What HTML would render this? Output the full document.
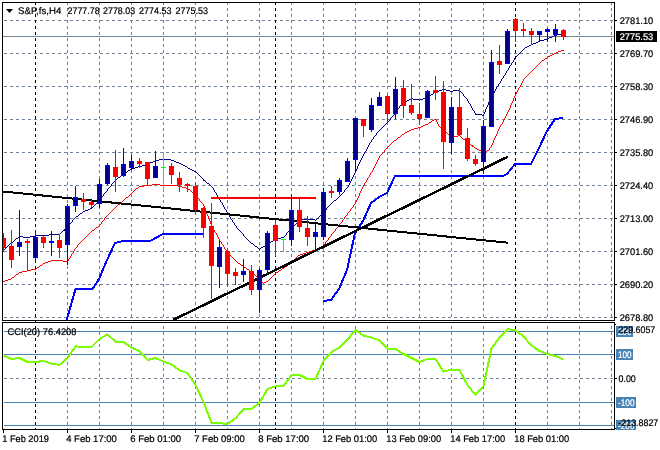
<!DOCTYPE html>
<html><head><meta charset="utf-8"><title>S&amp;P,fs,H4</title>
<style>
html,body{margin:0;padding:0;background:#fff;}
svg{display:block;}
text{text-rendering:geometricPrecision;font-family:"Liberation Sans",sans-serif;font-size:9.6px;fill:#000;stroke:#000;stroke-width:0.22px;}
</style></head><body>
<svg width="660" height="450" viewBox="0 0 660 450">
<rect x="0" y="0" width="660" height="450" fill="#fff"/>
<defs>
<clipPath id="cm"><rect x="3" y="3" width="611" height="317"/></clipPath>
<clipPath id="cs"><rect x="3" y="323" width="611" height="106"/></clipPath>
</defs>

<g shape-rendering="crispEdges" fill="none" stroke="#6f8194" stroke-width="1" stroke-dasharray="3 3">
<line x1="4" y1="20.5" x2="614" y2="20.5"/>
<line x1="4" y1="53.5" x2="614" y2="53.5"/>
<line x1="4" y1="86.5" x2="614" y2="86.5"/>
<line x1="4" y1="119.5" x2="614" y2="119.5"/>
<line x1="4" y1="152.5" x2="614" y2="152.5"/>
<line x1="4" y1="185.5" x2="614" y2="185.5"/>
<line x1="4" y1="218.5" x2="614" y2="218.5"/>
<line x1="4" y1="251.5" x2="614" y2="251.5"/>
<line x1="4" y1="284.5" x2="614" y2="284.5"/>
<line x1="4" y1="317.5" x2="614" y2="317.5"/>
<line x1="4" y1="378.5" x2="614" y2="378.5"/>
<line x1="35.5" y1="2" x2="35.5" y2="320"/>
<line x1="35.5" y1="326" x2="35.5" y2="429"/>
<line x1="67.5" y1="2" x2="67.5" y2="320"/>
<line x1="67.5" y1="326" x2="67.5" y2="429"/>
<line x1="99.5" y1="2" x2="99.5" y2="320"/>
<line x1="99.5" y1="326" x2="99.5" y2="429"/>
<line x1="131.5" y1="2" x2="131.5" y2="320"/>
<line x1="131.5" y1="326" x2="131.5" y2="429"/>
<line x1="163.5" y1="2" x2="163.5" y2="320"/>
<line x1="163.5" y1="326" x2="163.5" y2="429"/>
<line x1="195.5" y1="2" x2="195.5" y2="320"/>
<line x1="195.5" y1="326" x2="195.5" y2="429"/>
<line x1="227.5" y1="2" x2="227.5" y2="320"/>
<line x1="227.5" y1="326" x2="227.5" y2="429"/>
<line x1="259.5" y1="2" x2="259.5" y2="320"/>
<line x1="259.5" y1="326" x2="259.5" y2="429"/>
<line x1="291.5" y1="2" x2="291.5" y2="320"/>
<line x1="291.5" y1="326" x2="291.5" y2="429"/>
<line x1="323.5" y1="2" x2="323.5" y2="320"/>
<line x1="323.5" y1="326" x2="323.5" y2="429"/>
<line x1="355.5" y1="2" x2="355.5" y2="320"/>
<line x1="355.5" y1="326" x2="355.5" y2="429"/>
<line x1="387.5" y1="2" x2="387.5" y2="320"/>
<line x1="387.5" y1="326" x2="387.5" y2="429"/>
<line x1="419.5" y1="2" x2="419.5" y2="320"/>
<line x1="419.5" y1="326" x2="419.5" y2="429"/>
<line x1="451.5" y1="2" x2="451.5" y2="320"/>
<line x1="451.5" y1="326" x2="451.5" y2="429"/>
<line x1="483.5" y1="2" x2="483.5" y2="320"/>
<line x1="483.5" y1="326" x2="483.5" y2="429"/>
<line x1="515.5" y1="2" x2="515.5" y2="320"/>
<line x1="515.5" y1="326" x2="515.5" y2="429"/>
<line x1="547.5" y1="2" x2="547.5" y2="320"/>
<line x1="547.5" y1="326" x2="547.5" y2="429"/>
<line x1="579.5" y1="2" x2="579.5" y2="320"/>
<line x1="579.5" y1="326" x2="579.5" y2="429"/>
<line x1="611.5" y1="2" x2="611.5" y2="320"/>
<line x1="611.5" y1="326" x2="611.5" y2="429"/>
</g>
<g shape-rendering="crispEdges" fill="none" stroke="#000" stroke-width="1" stroke-dasharray="3 3">
<line x1="35.5" y1="2" x2="35.5" y2="320"/>
<line x1="35.5" y1="326" x2="35.5" y2="429"/>
<line x1="275.5" y1="2" x2="275.5" y2="320"/>
<line x1="275.5" y1="326" x2="275.5" y2="429"/>
<line x1="515.5" y1="2" x2="515.5" y2="320"/>
<line x1="515.5" y1="326" x2="515.5" y2="429"/>
</g>
<g shape-rendering="crispEdges" stroke="#4682b4" stroke-width="1">
<line x1="4" y1="331.5" x2="614" y2="331.5"/>
<line x1="4" y1="354.5" x2="614" y2="354.5"/>
<line x1="4" y1="402.5" x2="614" y2="402.5"/>
<line x1="4" y1="425.5" x2="614" y2="425.5"/>
</g>
<line x1="3" y1="36.5" x2="614" y2="36.5" stroke="#778899" stroke-width="1" shape-rendering="crispEdges"/>
<g clip-path="url(#cm)" shape-rendering="crispEdges" fill="none">
<polyline points="66.7,320 75.5,289 92.5,289 99,279 107,260 115,243 123.5,241 150,241 163,234 203,234" stroke="#0000ff" stroke-width="2"/>
<polyline points="323,301 331,300 339,289 347,270 355,233 363,221 371,203 379,197 387,193 395,176 503,176 507,174 515,164 531,164 539,148 547,131 555,119 563,118" stroke="#0000ff" stroke-width="2"/>
<path d="M3 281v1h1v-1zM4 281v1h1v-1zM5 280v1h1v-1zM6 280v1h1v-1zM7 280v1h1v-1zM8 279v1h1v-1zM9 279v1h1v-1zM10 279v1h1v-1zM11 278v1h1v-1zM12 277v1h1v-1zM13 277v1h1v-1zM14 276v1h1v-1zM15 275v1h1v-1zM16 274v1h1v-1zM17 274v1h1v-1zM18 273v1h1v-1zM19 272v1h1v-1zM20 272v1h1v-1zM21 272v1h1v-1zM22 271v1h1v-1zM23 271v1h1v-1zM24 271v1h1v-1zM25 271v1h1v-1zM26 271v1h1v-1zM27 270v1h1v-1zM28 270v1h1v-1zM29 270v1h1v-1zM30 270v1h1v-1zM31 269v1h1v-1zM32 269v1h1v-1zM33 269v1h1v-1zM34 269v1h1v-1zM35 269v1h1v-1zM36 268v1h1v-1zM37 267v1h1v-1zM38 267v1h1v-1zM39 266v1h1v-1zM40 265v1h1v-1zM41 265v1h1v-1zM42 264v1h1v-1zM43 263v1h1v-1zM44 263v1h1v-1zM45 262v1h1v-1zM46 262v1h1v-1zM47 262v1h1v-1zM48 261v1h1v-1zM49 261v1h1v-1zM50 261v1h1v-1zM51 260v1h1v-1zM52 260v1h1v-1zM53 260v1h1v-1zM54 260v1h1v-1zM55 260v1h1v-1zM56 260v1h1v-1zM57 260v1h1v-1zM58 260v1h1v-1zM59 260v1h1v-1zM60 260v1h1v-1zM61 260v1h1v-1zM62 260v1h1v-1zM63 261v1h1v-1zM64 261v1h1v-1zM65 261v1h1v-1zM66 261v1h1v-1zM67 261v2h1v-2zM68 259v2h1v-2zM69 258v1h1v-1zM70 256v2h1v-2zM71 254v2h1v-2zM72 253v1h1v-1zM73 251v2h1v-2zM74 249v2h1v-2zM75 248v1h1v-1zM76 247v1h1v-1zM77 245v2h1v-2zM78 244v1h1v-1zM79 243v1h1v-1zM80 242v1h1v-1zM81 241v1h1v-1zM82 240v1h1v-1zM83 239v1h1v-1zM84 238v1h1v-1zM85 237v1h1v-1zM86 236v1h1v-1zM87 235v1h1v-1zM88 234v1h1v-1zM89 233v1h1v-1zM90 232v1h1v-1zM91 231v1h1v-1zM92 230v1h1v-1zM93 230v1h1v-1zM94 229v1h1v-1zM95 228v1h1v-1zM96 227v1h1v-1zM97 227v1h1v-1zM98 226v1h1v-1zM99 225v1h1v-1zM100 224v1h1v-1zM101 222v2h1v-2zM102 221v1h1v-1zM103 220v1h1v-1zM104 218v2h1v-2zM105 217v1h1v-1zM106 216v1h1v-1zM107 215v1h1v-1zM108 214v1h1v-1zM109 213v1h1v-1zM110 212v1h1v-1zM111 211v1h1v-1zM112 210v1h1v-1zM113 209v1h1v-1zM114 208v1h1v-1zM115 207v1h1v-1zM116 206v1h1v-1zM117 205v1h1v-1zM118 204v1h1v-1zM119 204v1h1v-1zM120 203v1h1v-1zM121 202v1h1v-1zM122 201v1h1v-1zM123 200v1h1v-1zM124 199v1h1v-1zM125 198v1h1v-1zM126 197v1h1v-1zM127 197v1h1v-1zM128 196v1h1v-1zM129 195v1h1v-1zM130 194v1h1v-1zM131 193v1h1v-1zM132 192v1h1v-1zM133 191v1h1v-1zM134 190v1h1v-1zM135 189v1h1v-1zM136 188v1h1v-1zM137 188v1h1v-1zM138 187v1h1v-1zM139 186v1h1v-1zM140 186v1h1v-1zM141 186v1h1v-1zM142 186v1h1v-1zM143 186v1h1v-1zM144 185v1h1v-1zM145 185v1h1v-1zM146 185v1h1v-1zM147 185v1h1v-1zM148 185v1h1v-1zM149 185v1h1v-1zM150 185v1h1v-1zM151 185v1h1v-1zM152 184v1h1v-1zM153 184v1h1v-1zM154 184v1h1v-1zM155 184v1h1v-1zM156 184v1h1v-1zM157 184v1h1v-1zM158 184v1h1v-1zM159 184v1h1v-1zM160 185v1h1v-1zM161 185v1h1v-1zM162 185v1h1v-1zM163 185v1h1v-1zM164 185v1h1v-1zM165 185v1h1v-1zM166 185v1h1v-1zM167 185v1h1v-1zM168 185v1h1v-1zM169 185v1h1v-1zM170 185v1h1v-1zM171 185v1h1v-1zM172 185v1h1v-1zM173 185v1h1v-1zM174 185v1h1v-1zM175 185v1h1v-1zM176 185v1h1v-1zM177 185v1h1v-1zM178 186v1h1v-1zM179 186v1h1v-1zM180 186v1h1v-1zM181 186v1h1v-1zM182 187v1h1v-1zM183 187v1h1v-1zM184 187v1h1v-1zM185 187v1h1v-1zM186 188v1h1v-1zM187 188v1h1v-1zM188 189v1h1v-1zM189 189v1h1v-1zM190 190v1h1v-1zM191 191v1h1v-1zM192 192v1h1v-1zM193 193v1h1v-1zM194 194v1h1v-1zM195 195v1h1v-1zM196 196v1h1v-1zM197 197v1h1v-1zM198 198v1h1v-1zM199 199v2h1v-2zM200 201v1h1v-1zM201 202v1h1v-1zM202 203v1h1v-1zM203 204v2h1v-2zM204 206v3h1v-3zM205 209v2h1v-2zM206 211v3h1v-3zM207 214v2h1v-2zM208 216v3h1v-3zM209 219v2h1v-2zM210 221v3h1v-3zM211 224v2h1v-2zM212 226v2h1v-2zM213 228v2h1v-2zM214 230v2h1v-2zM215 232v1h1v-1zM216 233v2h1v-2zM217 235v2h1v-2zM218 237v2h1v-2zM219 239v2h1v-2zM220 241v1h1v-1zM221 242v2h1v-2zM222 244v1h1v-1zM223 245v2h1v-2zM224 247v2h1v-2zM225 249v1h1v-1zM226 250v2h1v-2zM227 252v1h1v-1zM228 253v1h1v-1zM229 254v1h1v-1zM230 255v1h1v-1zM231 256v1h1v-1zM232 257v1h1v-1zM233 258v1h1v-1zM234 259v1h1v-1zM235 260v1h1v-1zM236 261v1h1v-1zM237 262v1h1v-1zM238 263v1h1v-1zM239 263v1h1v-1zM240 264v1h1v-1zM241 265v1h1v-1zM242 265v1h1v-1zM243 266v1h1v-1zM244 267v1h1v-1zM245 267v1h1v-1zM246 268v1h1v-1zM247 269v1h1v-1zM248 269v1h1v-1zM249 270v1h1v-1zM250 271v1h1v-1zM251 271v1h1v-1zM252 272v1h1v-1zM253 273v1h1v-1zM254 274v1h1v-1zM255 275v1h1v-1zM256 276v1h1v-1zM257 277v1h1v-1zM258 278v1h1v-1zM259 279v1h1v-1zM260 280v1h1v-1zM261 281v1h1v-1zM262 282v1h1v-1zM263 283v1h1v-1zM264 282v1h1v-1zM265 282v1h1v-1zM266 281v1h1v-1zM267 281v1h1v-1zM268 280v1h1v-1zM269 279v1h1v-1zM270 278v1h1v-1zM271 277v1h1v-1zM272 276v1h1v-1zM273 275v1h1v-1zM274 274v1h1v-1zM275 273v1h1v-1zM276 272v1h1v-1zM277 272v1h1v-1zM278 271v1h1v-1zM279 270v1h1v-1zM280 270v1h1v-1zM281 269v1h1v-1zM282 268v1h1v-1zM283 268v1h1v-1zM284 267v1h1v-1zM285 266v1h1v-1zM286 266v1h1v-1zM287 265v1h1v-1zM288 264v1h1v-1zM289 263v1h1v-1zM290 263v1h1v-1zM291 262v1h1v-1zM292 261v1h1v-1zM293 260v1h1v-1zM294 259v1h1v-1zM295 258v1h1v-1zM296 257v1h1v-1zM297 256v1h1v-1zM298 255v1h1v-1zM299 255v1h1v-1zM300 254v1h1v-1zM301 254v1h1v-1zM302 254v1h1v-1zM303 253v1h1v-1zM304 253v1h1v-1zM305 253v1h1v-1zM306 252v1h1v-1zM307 252v1h1v-1zM308 252v1h1v-1zM309 251v1h1v-1zM310 251v1h1v-1zM311 251v1h1v-1zM312 250v1h1v-1zM313 250v1h1v-1zM314 250v1h1v-1zM315 250v1h1v-1zM316 249v1h1v-1zM317 248v1h1v-1zM318 248v1h1v-1zM319 247v1h1v-1zM320 247v1h1v-1zM321 246v1h1v-1zM322 246v1h1v-1zM323 245v1h1v-1zM324 244v1h1v-1zM325 242v2h1v-2zM326 241v1h1v-1zM327 240v1h1v-1zM328 238v2h1v-2zM329 237v1h1v-1zM330 236v1h1v-1zM331 234v2h1v-2zM332 233v1h1v-1zM333 232v1h1v-1zM334 231v1h1v-1zM335 229v2h1v-2zM336 228v1h1v-1zM337 227v1h1v-1zM338 226v1h1v-1zM339 224v2h1v-2zM340 223v1h1v-1zM341 222v1h1v-1zM342 220v2h1v-2zM343 219v1h1v-1zM344 217v2h1v-2zM345 216v1h1v-1zM346 215v1h1v-1zM347 213v2h1v-2zM348 212v1h1v-1zM349 211v1h1v-1zM350 209v2h1v-2zM351 208v1h1v-1zM352 207v1h1v-1zM353 205v2h1v-2zM354 204v1h1v-1zM355 202v2h1v-2zM356 200v2h1v-2zM357 198v2h1v-2zM358 196v2h1v-2zM359 193v3h1v-3zM360 191v2h1v-2zM361 189v2h1v-2zM362 187v2h1v-2zM363 185v2h1v-2zM364 183v2h1v-2zM365 182v1h1v-1zM366 180v2h1v-2zM367 178v2h1v-2zM368 177v1h1v-1zM369 175v2h1v-2zM370 173v2h1v-2zM371 172v1h1v-1zM372 170v2h1v-2zM373 168v2h1v-2zM374 166v2h1v-2zM375 164v2h1v-2zM376 162v2h1v-2zM377 160v2h1v-2zM378 158v2h1v-2zM379 156v2h1v-2zM380 155v1h1v-1zM381 154v1h1v-1zM382 153v1h1v-1zM383 152v1h1v-1zM384 150v2h1v-2zM385 149v1h1v-1zM386 148v1h1v-1zM387 147v1h1v-1zM388 146v1h1v-1zM389 145v1h1v-1zM390 144v1h1v-1zM391 143v1h1v-1zM392 142v1h1v-1zM393 141v1h1v-1zM394 140v1h1v-1zM395 140v1h1v-1zM396 139v1h1v-1zM397 138v1h1v-1zM398 137v1h1v-1zM399 137v1h1v-1zM400 136v1h1v-1zM401 135v1h1v-1zM402 134v1h1v-1zM403 134v1h1v-1zM404 133v1h1v-1zM405 132v1h1v-1zM406 132v1h1v-1zM407 131v1h1v-1zM408 131v1h1v-1zM409 130v1h1v-1zM410 130v1h1v-1zM411 129v1h1v-1zM412 129v1h1v-1zM413 129v1h1v-1zM414 128v1h1v-1zM415 128v1h1v-1zM416 128v1h1v-1zM417 128v1h1v-1zM418 127v1h1v-1zM419 127v1h1v-1zM420 127v1h1v-1zM421 126v1h1v-1zM422 126v1h1v-1zM423 125v1h1v-1zM424 125v1h1v-1zM425 124v1h1v-1zM426 124v1h1v-1zM427 124v1h1v-1zM428 123v1h1v-1zM429 122v1h1v-1zM430 122v1h1v-1zM431 121v1h1v-1zM432 120v1h1v-1zM433 120v1h1v-1zM434 119v1h1v-1zM435 119v1h1v-1zM436 120v2h1v-2zM437 122v2h1v-2zM438 124v2h1v-2zM439 126v1h1v-1zM440 127v1h1v-1zM441 128v1h1v-1zM442 129v1h1v-1zM443 130v1h1v-1zM444 130v1h1v-1zM445 131v1h1v-1zM446 132v1h1v-1zM447 133v1h1v-1zM448 134v1h1v-1zM449 134v1h1v-1zM450 134v1h1v-1zM451 135v1h1v-1zM452 135v1h1v-1zM453 135v1h1v-1zM454 136v1h1v-1zM455 136v1h1v-1zM456 136v1h1v-1zM457 136v1h1v-1zM458 135v1h1v-1zM459 135v1h1v-1zM460 136v1h1v-1zM461 137v1h1v-1zM462 138v1h1v-1zM463 139v1h1v-1zM464 139v1h1v-1zM465 140v1h1v-1zM466 141v1h1v-1zM467 142v1h1v-1zM468 142v1h1v-1zM469 143v1h1v-1zM470 144v1h1v-1zM471 145v1h1v-1zM472 145v2h1v-2zM473 146v1h1v-1zM474 147v1h1v-1zM475 148v1h1v-1zM476 148v1h1v-1zM477 149v1h1v-1zM478 149v1h1v-1zM479 150v1h1v-1zM480 150v1h1v-1zM481 151v1h1v-1zM482 151v1h1v-1zM483 152v1h1v-1zM484 152v1h1v-1zM485 151v1h1v-1zM486 151v1h1v-1zM487 150v1h1v-1zM488 150v1h1v-1zM489 148v2h1v-2zM490 147v1h1v-1zM491 145v2h1v-2zM492 143v2h1v-2zM493 140v3h1v-3zM494 138v2h1v-2zM495 136v2h1v-2zM496 134v2h1v-2zM497 131v3h1v-3zM498 129v2h1v-2zM499 127v2h1v-2zM500 125v2h1v-2zM501 124v1h1v-1zM502 122v2h1v-2zM503 120v2h1v-2zM504 118v2h1v-2zM505 116v2h1v-2zM506 114v2h1v-2zM507 112v2h1v-2zM508 110v2h1v-2zM509 108v2h1v-2zM510 105v3h1v-3zM511 103v2h1v-2zM512 101v2h1v-2zM513 98v3h1v-3zM514 96v2h1v-2zM515 94v2h1v-2zM516 92v2h1v-2zM517 90v2h1v-2zM518 88v2h1v-2zM519 87v1h1v-1zM520 85v2h1v-2zM521 83v2h1v-2zM522 81v2h1v-2zM523 79v2h1v-2zM524 78v1h1v-1zM525 77v1h1v-1zM526 76v1h1v-1zM527 75v1h1v-1zM528 74v1h1v-1zM529 73v1h1v-1zM530 72v1h1v-1zM531 71v1h1v-1zM532 70v1h1v-1zM533 69v1h1v-1zM534 68v1h1v-1zM535 67v1h1v-1zM536 66v1h1v-1zM537 65v1h1v-1zM538 64v1h1v-1zM539 63v1h1v-1zM540 62v1h1v-1zM541 61v1h1v-1zM542 60v1h1v-1zM543 60v1h1v-1zM544 59v1h1v-1zM545 58v1h1v-1zM546 58v1h1v-1zM547 57v1h1v-1zM548 56v1h1v-1zM549 56v1h1v-1zM550 55v1h1v-1zM551 55v1h1v-1zM552 54v1h1v-1zM553 54v1h1v-1zM554 53v1h1v-1zM555 53v1h1v-1zM556 52v1h1v-1zM557 52v1h1v-1zM558 51v1h1v-1zM559 51v1h1v-1zM560 51v1h1v-1zM561 50v1h1v-1zM562 50v1h1v-1zM563 50v1h1v-1z" fill="#ff0000"/>
<path d="M3 250v1h1v-1zM4 249v1h1v-1zM5 248v1h1v-1zM6 247v1h1v-1zM7 246v1h1v-1zM8 245v1h1v-1zM9 244v1h1v-1zM10 243v1h1v-1zM11 243v1h1v-1zM12 242v1h1v-1zM13 241v1h1v-1zM14 240v1h1v-1zM15 239v1h1v-1zM16 238v1h1v-1zM17 238v1h1v-1zM18 237v1h1v-1zM19 236v1h1v-1zM20 236v1h1v-1zM21 236v1h1v-1zM22 236v1h1v-1zM23 237v1h1v-1zM24 237v1h1v-1zM25 237v1h1v-1zM26 237v1h1v-1zM27 237v1h1v-1zM28 237v1h1v-1zM29 237v1h1v-1zM30 236v1h1v-1zM31 236v1h1v-1zM32 236v1h1v-1zM33 236v1h1v-1zM34 236v1h1v-1zM35 236v1h1v-1zM36 235v1h1v-1zM37 235v1h1v-1zM38 235v1h1v-1zM39 235v1h1v-1zM40 235v1h1v-1zM41 235v1h1v-1zM42 235v1h1v-1zM43 235v1h1v-1zM44 235v1h1v-1zM45 235v1h1v-1zM46 235v1h1v-1zM47 235v1h1v-1zM48 235v1h1v-1zM49 234v1h1v-1zM50 234v1h1v-1zM51 234v1h1v-1zM52 234v1h1v-1zM53 234v1h1v-1zM54 234v1h1v-1zM55 234v1h1v-1zM56 234v1h1v-1zM57 234v1h1v-1zM58 234v1h1v-1zM59 234v1h1v-1zM60 233v1h1v-1zM61 232v1h1v-1zM62 231v1h1v-1zM63 230v1h1v-1zM64 229v2h1v-2zM65 228v1h1v-1zM66 227v1h1v-1zM67 226v1h1v-1zM68 225v1h1v-1zM69 224v1h1v-1zM70 223v1h1v-1zM71 222v1h1v-1zM72 220v2h1v-2zM73 219v1h1v-1zM74 218v1h1v-1zM75 217v1h1v-1zM76 216v1h1v-1zM77 216v1h1v-1zM78 215v1h1v-1zM79 214v1h1v-1zM80 213v1h1v-1zM81 213v1h1v-1zM82 212v1h1v-1zM83 211v1h1v-1zM84 211v1h1v-1zM85 210v1h1v-1zM86 210v1h1v-1zM87 210v1h1v-1zM88 209v1h1v-1zM89 209v1h1v-1zM90 208v1h1v-1zM91 208v1h1v-1zM92 207v1h1v-1zM93 206v1h1v-1zM94 205v1h1v-1zM95 204v1h1v-1zM96 203v1h1v-1zM97 202v1h1v-1zM98 201v1h1v-1zM99 199v2h1v-2zM100 198v1h1v-1zM101 197v1h1v-1zM102 196v1h1v-1zM103 194v2h1v-2zM104 193v1h1v-1zM105 192v1h1v-1zM106 191v1h1v-1zM107 189v2h1v-2zM108 188v1h1v-1zM109 187v1h1v-1zM110 186v1h1v-1zM111 184v2h1v-2zM112 183v1h1v-1zM113 182v1h1v-1zM114 181v1h1v-1zM115 180v1h1v-1zM116 179v1h1v-1zM117 178v1h1v-1zM118 177v1h1v-1zM119 177v1h1v-1zM120 176v1h1v-1zM121 175v1h1v-1zM122 174v1h1v-1zM123 174v1h1v-1zM124 173v1h1v-1zM125 172v1h1v-1zM126 172v1h1v-1zM127 171v1h1v-1zM128 170v1h1v-1zM129 170v1h1v-1zM130 169v1h1v-1zM131 169v1h1v-1zM132 168v1h1v-1zM133 168v1h1v-1zM134 168v1h1v-1zM135 167v1h1v-1zM136 167v1h1v-1zM137 167v1h1v-1zM138 166v1h1v-1zM139 166v1h1v-1zM140 166v1h1v-1zM141 166v1h1v-1zM142 165v1h1v-1zM143 165v1h1v-1zM144 165v1h1v-1zM145 164v1h1v-1zM146 164v1h1v-1zM147 164v1h1v-1zM148 163v1h1v-1zM149 163v1h1v-1zM150 162v1h1v-1zM151 162v1h1v-1zM152 162v1h1v-1zM153 161v1h1v-1zM154 161v1h1v-1zM155 160v1h1v-1zM156 160v1h1v-1zM157 160v1h1v-1zM158 160v1h1v-1zM159 159v1h1v-1zM160 159v1h1v-1zM161 159v1h1v-1zM162 159v1h1v-1zM163 159v1h1v-1zM164 159v1h1v-1zM165 159v1h1v-1zM166 159v1h1v-1zM167 159v1h1v-1zM168 159v1h1v-1zM169 159v1h1v-1zM170 159v1h1v-1zM171 160v1h1v-1zM172 160v1h1v-1zM173 160v1h1v-1zM174 161v1h1v-1zM175 161v1h1v-1zM176 162v1h1v-1zM177 162v1h1v-1zM178 162v1h1v-1zM179 163v1h1v-1zM180 163v1h1v-1zM181 164v1h1v-1zM182 164v1h1v-1zM183 165v1h1v-1zM184 165v1h1v-1zM185 166v1h1v-1zM186 166v1h1v-1zM187 167v1h1v-1zM188 168v1h1v-1zM189 168v1h1v-1zM190 169v1h1v-1zM191 169v1h1v-1zM192 170v1h1v-1zM193 170v1h1v-1zM194 171v1h1v-1zM195 171v1h1v-1zM196 172v1h1v-1zM197 173v1h1v-1zM198 174v1h1v-1zM199 175v1h1v-1zM200 176v1h1v-1zM201 177v1h1v-1zM202 178v1h1v-1zM203 179v2h1v-2zM204 180v1h1v-1zM205 181v1h1v-1zM206 182v1h1v-1zM207 183v1h1v-1zM208 183v1h1v-1zM209 184v1h1v-1zM210 185v1h1v-1zM211 186v1h1v-1zM212 187v1h1v-1zM213 188v2h1v-2zM214 190v2h1v-2zM215 192v1h1v-1zM216 193v2h1v-2zM217 195v2h1v-2zM218 197v1h1v-1zM219 198v2h1v-2zM220 200v2h1v-2zM221 202v1h1v-1zM222 203v2h1v-2zM223 205v2h1v-2zM224 207v2h1v-2zM225 209v1h1v-1zM226 210v2h1v-2zM227 212v2h1v-2zM228 214v1h1v-1zM229 215v2h1v-2zM230 217v2h1v-2zM231 219v1h1v-1zM232 220v2h1v-2zM233 222v1h1v-1zM234 223v2h1v-2zM235 225v1h1v-1zM236 226v2h1v-2zM237 228v1h1v-1zM238 229v1h1v-1zM239 230v1h1v-1zM240 231v1h1v-1zM241 232v1h1v-1zM242 233v1h1v-1zM243 234v2h1v-2zM244 236v1h1v-1zM245 237v1h1v-1zM246 238v1h1v-1zM247 239v1h1v-1zM248 240v1h1v-1zM249 241v1h1v-1zM250 242v1h1v-1zM251 243v1h1v-1zM252 243v1h1v-1zM253 244v1h1v-1zM254 245v1h1v-1zM255 246v1h1v-1zM256 246v1h1v-1zM257 247v1h1v-1zM258 248v1h1v-1zM259 249v1h1v-1zM260 248v1h1v-1zM261 247v1h1v-1zM262 247v1h1v-1zM263 246v1h1v-1zM264 246v1h1v-1zM265 245v1h1v-1zM266 245v1h1v-1zM267 244v1h1v-1zM268 243v1h1v-1zM269 243v1h1v-1zM270 242v1h1v-1zM271 241v1h1v-1zM272 241v1h1v-1zM273 240v1h1v-1zM274 239v1h1v-1zM275 239v1h1v-1zM276 238v1h1v-1zM277 238v1h1v-1zM278 238v1h1v-1zM279 238v1h1v-1zM280 238v1h1v-1zM281 237v1h1v-1zM282 237v1h1v-1zM283 237v1h1v-1zM284 236v1h1v-1zM285 235v1h1v-1zM286 233v2h1v-2zM287 232v1h1v-1zM288 231v1h1v-1zM289 230v1h1v-1zM290 229v1h1v-1zM291 228v1h1v-1zM292 227v1h1v-1zM293 226v1h1v-1zM294 225v1h1v-1zM295 224v1h1v-1zM296 223v1h1v-1zM297 222v1h1v-1zM298 221v1h1v-1zM299 221v1h1v-1zM300 220v1h1v-1zM301 220v1h1v-1zM302 219v1h1v-1zM303 219v1h1v-1zM304 219v1h1v-1zM305 219v1h1v-1zM306 219v1h1v-1zM307 219v1h1v-1zM308 219v1h1v-1zM309 219v1h1v-1zM310 219v1h1v-1zM311 219v1h1v-1zM312 219v1h1v-1zM313 219v1h1v-1zM314 219v1h1v-1zM315 220v1h1v-1zM316 219v1h1v-1zM317 218v1h1v-1zM318 217v1h1v-1zM319 216v1h1v-1zM320 215v1h1v-1zM321 214v1h1v-1zM322 213v1h1v-1zM323 212v1h1v-1zM324 211v1h1v-1zM325 210v1h1v-1zM326 208v2h1v-2zM327 207v1h1v-1zM328 206v1h1v-1zM329 205v1h1v-1zM330 204v1h1v-1zM331 203v1h1v-1zM332 202v1h1v-1zM333 201v1h1v-1zM334 200v1h1v-1zM335 200v1h1v-1zM336 199v1h1v-1zM337 198v1h1v-1zM338 197v1h1v-1zM339 196v1h1v-1zM340 195v1h1v-1zM341 194v1h1v-1zM342 193v1h1v-1zM343 192v1h1v-1zM344 190v2h1v-2zM345 189v1h1v-1zM346 188v1h1v-1zM347 187v1h1v-1zM348 185v2h1v-2zM349 183v2h1v-2zM350 181v2h1v-2zM351 179v2h1v-2zM352 177v2h1v-2zM353 175v2h1v-2zM354 173v2h1v-2zM355 171v2h1v-2zM356 169v2h1v-2zM357 166v3h1v-3zM358 164v2h1v-2zM359 162v2h1v-2zM360 160v2h1v-2zM361 158v2h1v-2zM362 156v2h1v-2zM363 154v2h1v-2zM364 152v2h1v-2zM365 151v1h1v-1zM366 149v2h1v-2zM367 147v2h1v-2zM368 145v2h1v-2zM369 143v2h1v-2zM370 142v1h1v-1zM371 140v2h1v-2zM372 139v1h1v-1zM373 137v2h1v-2zM374 136v1h1v-1zM375 135v1h1v-1zM376 133v2h1v-2zM377 132v1h1v-1zM378 131v1h1v-1zM379 130v1h1v-1zM380 129v1h1v-1zM381 128v1h1v-1zM382 127v1h1v-1zM383 126v1h1v-1zM384 125v1h1v-1zM385 124v1h1v-1zM386 123v1h1v-1zM387 122v1h1v-1zM388 121v1h1v-1zM389 120v1h1v-1zM390 118v2h1v-2zM391 117v1h1v-1zM392 116v1h1v-1zM393 115v1h1v-1zM394 114v1h1v-1zM395 112v2h1v-2zM396 111v1h1v-1zM397 109v2h1v-2zM398 108v1h1v-1zM399 106v2h1v-2zM400 105v1h1v-1zM401 104v1h1v-1zM402 103v1h1v-1zM403 102v1h1v-1zM404 102v1h1v-1zM405 101v1h1v-1zM406 101v1h1v-1zM407 100v1h1v-1zM408 100v1h1v-1zM409 99v1h1v-1zM410 99v1h1v-1zM411 98v1h1v-1zM412 98v1h1v-1zM413 99v1h1v-1zM414 99v1h1v-1zM415 99v1h1v-1zM416 99v1h1v-1zM417 99v1h1v-1zM418 99v1h1v-1zM419 100v1h1v-1zM420 99v1h1v-1zM421 99v1h1v-1zM422 99v1h1v-1zM423 98v1h1v-1zM424 98v1h1v-1zM425 98v1h1v-1zM426 97v1h1v-1zM427 97v1h1v-1zM428 96v1h1v-1zM429 96v1h1v-1zM430 95v1h1v-1zM431 94v1h1v-1zM432 94v1h1v-1zM433 93v1h1v-1zM434 92v1h1v-1zM435 92v1h1v-1zM436 91v1h1v-1zM437 91v1h1v-1zM438 91v1h1v-1zM439 90v1h1v-1zM440 90v1h1v-1zM441 90v1h1v-1zM442 89v1h1v-1zM443 89v1h1v-1zM444 89v1h1v-1zM445 89v1h1v-1zM446 90v1h1v-1zM447 90v1h1v-1zM448 90v1h1v-1zM449 90v1h1v-1zM450 91v1h1v-1zM451 91v1h1v-1zM452 91v1h1v-1zM453 90v1h1v-1zM454 90v1h1v-1zM455 90v1h1v-1zM456 90v1h1v-1zM457 90v1h1v-1zM458 90v1h1v-1zM459 90v1h1v-1zM460 91v1h1v-1zM461 92v1h1v-1zM462 93v1h1v-1zM463 94v2h1v-2zM464 96v1h1v-1zM465 97v1h1v-1zM466 98v1h1v-1zM467 99v2h1v-2zM468 101v2h1v-2zM469 103v1h1v-1zM470 104v2h1v-2zM471 106v2h1v-2zM472 108v2h1v-2zM473 110v1h1v-1zM474 111v2h1v-2zM475 113v2h1v-2zM476 114v1h1v-1zM477 114v1h1v-1zM478 114v1h1v-1zM479 114v1h1v-1zM480 114v1h1v-1zM481 114v1h1v-1zM482 115v1h1v-1zM483 114v2h1v-2zM484 112v2h1v-2zM485 109v3h1v-3zM486 107v2h1v-2zM487 105v2h1v-2zM488 102v3h1v-3zM489 100v2h1v-2zM490 98v2h1v-2zM491 96v2h1v-2zM492 94v2h1v-2zM493 93v1h1v-1zM494 91v2h1v-2zM495 89v2h1v-2zM496 87v2h1v-2zM497 86v1h1v-1zM498 84v2h1v-2zM499 83v1h1v-1zM500 81v2h1v-2zM501 79v2h1v-2zM502 78v1h1v-1zM503 76v2h1v-2zM504 75v1h1v-1zM505 73v2h1v-2zM506 71v2h1v-2zM507 70v1h1v-1zM508 68v2h1v-2zM509 66v2h1v-2zM510 65v1h1v-1zM511 63v2h1v-2zM512 62v1h1v-1zM513 60v2h1v-2zM514 58v2h1v-2zM515 57v1h1v-1zM516 56v1h1v-1zM517 55v1h1v-1zM518 54v1h1v-1zM519 53v1h1v-1zM520 52v1h1v-1zM521 51v1h1v-1zM522 50v1h1v-1zM523 49v1h1v-1zM524 48v1h1v-1zM525 47v1h1v-1zM526 47v1h1v-1zM527 46v1h1v-1zM528 46v1h1v-1zM529 45v1h1v-1zM530 45v1h1v-1zM531 44v1h1v-1zM532 44v1h1v-1zM533 43v1h1v-1zM534 43v1h1v-1zM535 43v1h1v-1zM536 42v1h1v-1zM537 42v1h1v-1zM538 41v1h1v-1zM539 41v1h1v-1zM540 40v1h1v-1zM541 40v1h1v-1zM542 40v1h1v-1zM543 40v1h1v-1zM544 39v1h1v-1zM545 39v1h1v-1zM546 39v1h1v-1zM547 38v1h1v-1zM548 38v1h1v-1zM549 37v1h1v-1zM550 37v1h1v-1zM551 37v1h1v-1zM552 36v1h1v-1zM553 36v1h1v-1zM554 35v1h1v-1zM555 35v1h1v-1zM556 35v1h1v-1zM557 34v1h1v-1zM558 34v1h1v-1zM559 34v1h1v-1zM560 34v1h1v-1zM561 33v1h1v-1zM562 33v1h1v-1zM563 33v1h1v-1z" fill="#00008b"/>
</g>
<g clip-path="url(#cm)" shape-rendering="crispEdges" fill="none">
<rect x="211" y="197" width="105" height="2" fill="#f00"/>
<line x1="3" y1="191.5" x2="508" y2="242.75" stroke="#000" stroke-width="2"/>
<line x1="173" y1="320" x2="508" y2="156.7" stroke="#000" stroke-width="2.5"/>
</g>
<g clip-path="url(#cm)" shape-rendering="crispEdges">
<rect x="3" y="233" width="1" height="19" fill="#f00"/><rect x="1" y="238" width="5" height="10" fill="#f00"/>
<rect x="11" y="230" width="1" height="38" fill="#f00"/><rect x="9" y="246" width="5" height="14" fill="#f00"/>
<rect x="19" y="210" width="1" height="46" fill="#00f"/><rect x="17" y="242" width="5" height="5" fill="#00f"/>
<rect x="18" y="243" width="3" height="3" fill="#00008b"/>
<rect x="27" y="239" width="1" height="31" fill="#f00"/><rect x="25" y="241" width="5" height="2" fill="#f00"/>
<rect x="35" y="230" width="1" height="33" fill="#00f"/><rect x="33" y="237" width="5" height="21" fill="#00f"/>
<rect x="34" y="238" width="3" height="19" fill="#00008b"/>
<rect x="43" y="236" width="1" height="12" fill="#f00"/><rect x="41" y="237" width="5" height="6" fill="#f00"/>
<rect x="51" y="231" width="1" height="25" fill="#00f"/><rect x="49" y="241" width="5" height="2" fill="#00f"/>
<rect x="59" y="234" width="1" height="24" fill="#f00"/><rect x="57" y="240" width="5" height="8" fill="#f00"/>
<rect x="67" y="204" width="1" height="61" fill="#00f"/><rect x="65" y="206" width="5" height="39" fill="#00f"/>
<rect x="66" y="207" width="3" height="37" fill="#00008b"/>
<rect x="75" y="186" width="1" height="26" fill="#00f"/><rect x="73" y="197" width="5" height="9" fill="#00f"/>
<rect x="74" y="198" width="3" height="7" fill="#00008b"/>
<rect x="83" y="193" width="1" height="17" fill="#f00"/><rect x="81" y="199" width="5" height="3" fill="#f00"/>
<rect x="91" y="200" width="1" height="8" fill="#f00"/><rect x="89" y="202" width="5" height="3" fill="#f00"/>
<rect x="99" y="179" width="1" height="29" fill="#00f"/><rect x="97" y="184" width="5" height="20" fill="#00f"/>
<rect x="98" y="185" width="3" height="18" fill="#00008b"/>
<rect x="107" y="163" width="1" height="22" fill="#00f"/><rect x="105" y="165" width="5" height="19" fill="#00f"/>
<rect x="106" y="166" width="3" height="17" fill="#00008b"/>
<rect x="115" y="150" width="1" height="42" fill="#f00"/><rect x="113" y="167" width="5" height="10" fill="#f00"/>
<rect x="123" y="148" width="1" height="29" fill="#00f"/><rect x="121" y="164" width="5" height="12" fill="#00f"/>
<rect x="122" y="165" width="3" height="10" fill="#00008b"/>
<rect x="131" y="155" width="1" height="14" fill="#00f"/><rect x="129" y="161" width="5" height="7" fill="#00f"/>
<rect x="130" y="162" width="3" height="5" fill="#00008b"/>
<rect x="139" y="158" width="1" height="10" fill="#f00"/><rect x="137" y="161" width="5" height="3" fill="#f00"/>
<rect x="147" y="162" width="1" height="24" fill="#f00"/><rect x="145" y="162" width="5" height="17" fill="#f00"/>
<rect x="155" y="151" width="1" height="27" fill="#00f"/><rect x="153" y="166" width="5" height="12" fill="#00f"/>
<rect x="154" y="167" width="3" height="10" fill="#00008b"/>
<rect x="163" y="152" width="1" height="40" fill="#0f0"/><rect x="161" y="167" width="5" height="1" fill="#0f0"/>
<rect x="171" y="163" width="1" height="21" fill="#f00"/><rect x="169" y="166" width="5" height="9" fill="#f00"/>
<rect x="179" y="172" width="1" height="20" fill="#f00"/><rect x="177" y="178" width="5" height="7" fill="#f00"/>
<rect x="187" y="183" width="1" height="9" fill="#f00"/><rect x="185" y="184" width="5" height="2" fill="#f00"/>
<rect x="195" y="182" width="1" height="32" fill="#f00"/><rect x="193" y="186" width="5" height="24" fill="#f00"/>
<rect x="203" y="207" width="1" height="31" fill="#f00"/><rect x="201" y="208" width="5" height="20" fill="#f00"/>
<rect x="211" y="203" width="1" height="96" fill="#f00"/><rect x="209" y="226" width="5" height="40" fill="#f00"/>
<rect x="219" y="240" width="1" height="48" fill="#00f"/><rect x="217" y="247" width="5" height="20" fill="#00f"/>
<rect x="218" y="248" width="3" height="18" fill="#00008b"/>
<rect x="227" y="248" width="1" height="39" fill="#f00"/><rect x="225" y="251" width="5" height="23" fill="#f00"/>
<rect x="235" y="268" width="1" height="17" fill="#f00"/><rect x="233" y="272" width="5" height="4" fill="#f00"/>
<rect x="243" y="259" width="1" height="23" fill="#00f"/><rect x="241" y="271" width="5" height="4" fill="#00f"/>
<rect x="242" y="272" width="3" height="2" fill="#00008b"/>
<rect x="251" y="265" width="1" height="30" fill="#f00"/><rect x="249" y="271" width="5" height="19" fill="#f00"/>
<rect x="259" y="268" width="1" height="45" fill="#00f"/><rect x="257" y="270" width="5" height="20" fill="#00f"/>
<rect x="258" y="271" width="3" height="18" fill="#00008b"/>
<rect x="267" y="231" width="1" height="43" fill="#00f"/><rect x="265" y="233" width="5" height="37" fill="#00f"/>
<rect x="266" y="234" width="3" height="35" fill="#00008b"/>
<rect x="275" y="220" width="1" height="36" fill="#f00"/><rect x="273" y="225" width="5" height="16" fill="#f00"/>
<rect x="283" y="239" width="1" height="13" fill="#0f0"/><rect x="281" y="239" width="5" height="1" fill="#0f0"/>
<rect x="291" y="194" width="1" height="52" fill="#00f"/><rect x="289" y="210" width="5" height="30" fill="#00f"/>
<rect x="290" y="211" width="3" height="28" fill="#00008b"/>
<rect x="299" y="198" width="1" height="34" fill="#f00"/><rect x="297" y="210" width="5" height="17" fill="#f00"/>
<rect x="307" y="216" width="1" height="30" fill="#f00"/><rect x="305" y="228" width="5" height="9" fill="#f00"/>
<rect x="315" y="224" width="1" height="25" fill="#00f"/><rect x="313" y="232" width="5" height="5" fill="#00f"/>
<rect x="314" y="233" width="3" height="3" fill="#00008b"/>
<rect x="323" y="188" width="1" height="52" fill="#00f"/><rect x="321" y="192" width="5" height="45" fill="#00f"/>
<rect x="322" y="193" width="3" height="43" fill="#00008b"/>
<rect x="331" y="186" width="1" height="12" fill="#f00"/><rect x="329" y="191" width="5" height="2" fill="#f00"/>
<rect x="339" y="178" width="1" height="17" fill="#00f"/><rect x="337" y="180" width="5" height="12" fill="#00f"/>
<rect x="338" y="181" width="3" height="10" fill="#00008b"/>
<rect x="347" y="158" width="1" height="24" fill="#00f"/><rect x="345" y="161" width="5" height="21" fill="#00f"/>
<rect x="346" y="162" width="3" height="19" fill="#00008b"/>
<rect x="355" y="118" width="1" height="54" fill="#00f"/><rect x="353" y="118" width="5" height="42" fill="#00f"/>
<rect x="354" y="119" width="3" height="40" fill="#00008b"/>
<rect x="363" y="119" width="1" height="18" fill="#f00"/><rect x="361" y="119" width="5" height="7" fill="#f00"/>
<rect x="371" y="98" width="1" height="34" fill="#00f"/><rect x="369" y="105" width="5" height="25" fill="#00f"/>
<rect x="370" y="106" width="3" height="23" fill="#00008b"/>
<rect x="379" y="92" width="1" height="14" fill="#00f"/><rect x="377" y="97" width="5" height="9" fill="#00f"/>
<rect x="378" y="98" width="3" height="7" fill="#00008b"/>
<rect x="387" y="95" width="1" height="27" fill="#f00"/><rect x="385" y="96" width="5" height="18" fill="#f00"/>
<rect x="395" y="77" width="1" height="42" fill="#00f"/><rect x="393" y="89" width="5" height="25" fill="#00f"/>
<rect x="394" y="90" width="3" height="23" fill="#00008b"/>
<rect x="403" y="80" width="1" height="38" fill="#f00"/><rect x="401" y="88" width="5" height="18" fill="#f00"/>
<rect x="411" y="84" width="1" height="31" fill="#f00"/><rect x="409" y="105" width="5" height="8" fill="#f00"/>
<rect x="419" y="103" width="1" height="22" fill="#f00"/><rect x="417" y="114" width="5" height="5" fill="#f00"/>
<rect x="427" y="90" width="1" height="28" fill="#00f"/><rect x="425" y="91" width="5" height="27" fill="#00f"/>
<rect x="426" y="92" width="3" height="25" fill="#00008b"/>
<rect x="435" y="76" width="1" height="24" fill="#f00"/><rect x="433" y="90" width="5" height="3" fill="#f00"/>
<rect x="443" y="81" width="1" height="88" fill="#f00"/><rect x="441" y="92" width="5" height="50" fill="#f00"/>
<rect x="451" y="97" width="1" height="57" fill="#00f"/><rect x="449" y="107" width="5" height="36" fill="#00f"/>
<rect x="450" y="108" width="3" height="34" fill="#00008b"/>
<rect x="459" y="88" width="1" height="48" fill="#f00"/><rect x="457" y="107" width="5" height="28" fill="#f00"/>
<rect x="467" y="128" width="1" height="33" fill="#f00"/><rect x="465" y="138" width="5" height="21" fill="#f00"/>
<rect x="475" y="155" width="1" height="11" fill="#f00"/><rect x="473" y="159" width="5" height="5" fill="#f00"/>
<rect x="483" y="120" width="1" height="54" fill="#00f"/><rect x="481" y="126" width="5" height="36" fill="#00f"/>
<rect x="482" y="127" width="3" height="34" fill="#00008b"/>
<rect x="491" y="50" width="1" height="77" fill="#00f"/><rect x="489" y="62" width="5" height="65" fill="#00f"/>
<rect x="490" y="63" width="3" height="63" fill="#00008b"/>
<rect x="499" y="45" width="1" height="29" fill="#f00"/><rect x="497" y="61" width="5" height="4" fill="#f00"/>
<rect x="507" y="29" width="1" height="35" fill="#00f"/><rect x="505" y="31" width="5" height="33" fill="#00f"/>
<rect x="506" y="32" width="3" height="31" fill="#00008b"/>
<rect x="515" y="18" width="1" height="24" fill="#f00"/><rect x="513" y="19" width="5" height="12" fill="#f00"/>
<rect x="523" y="23" width="1" height="14" fill="#f00"/><rect x="521" y="29" width="5" height="2" fill="#f00"/>
<rect x="531" y="28" width="1" height="17" fill="#f00"/><rect x="529" y="31" width="5" height="4" fill="#f00"/>
<rect x="539" y="31" width="1" height="11" fill="#00f"/><rect x="537" y="31" width="5" height="4" fill="#00f"/>
<rect x="538" y="32" width="3" height="2" fill="#00008b"/>
<rect x="547" y="28" width="1" height="14" fill="#00f"/><rect x="545" y="29" width="5" height="3" fill="#00f"/>
<rect x="546" y="30" width="3" height="1" fill="#00008b"/>
<rect x="555" y="24" width="1" height="18" fill="#00f"/><rect x="553" y="29" width="5" height="6" fill="#00f"/>
<rect x="554" y="30" width="3" height="4" fill="#00008b"/>
<rect x="563" y="29" width="1" height="11" fill="#f00"/><rect x="561" y="30" width="5" height="7" fill="#f00"/>
</g>
<g clip-path="url(#cs)" shape-rendering="crispEdges" fill="none">
<polyline points="3.5,355.6 11.5,359 19.5,358 27.5,362 35.5,362 43.5,361 51.5,363.6 59.5,365 67.5,358 75.5,346.4 83.5,347 91.5,347 99.5,339 107.5,334.4 115.5,341.6 123.5,342 131.5,347.6 139.5,351 147.5,360 155.5,358 163.5,361.6 171.5,364.4 179.5,370.4 187.5,373 195.5,385 203.5,402 211.5,422.8 219.5,423.3 227.5,423.8 235.5,418.3 243.5,409.3 251.5,408.9 259.5,403 267.5,389 275.5,386.4 283.5,386 291.5,375.5 299.5,375 307.5,379 315.5,379 323.5,361 331.5,352 339.5,347.6 347.5,339.6 355.5,330 363.5,335.6 371.5,337.6 379.5,340.4 387.5,349 395.5,349 403.5,354 411.5,358 419.5,362 427.5,359 435.5,359 443.5,371.6 451.5,369.6 459.5,370 467.5,385 475.5,395 483.5,386 491.5,348.5 499.5,337.8 507.5,329 515.5,330.4 523.5,336.5 531.5,345.6 539.5,351 547.5,354 555.5,356 563.5,359.6" stroke="#7cfc00" stroke-width="2"/>
</g>
<g shape-rendering="crispEdges" fill="#000">
<rect x="2" y="2" width="613" height="1"/>
<rect x="2" y="2" width="1" height="428"/>
<rect x="614" y="2" width="1" height="428"/>
<rect x="2" y="320" width="613" height="1"/>
<rect x="2" y="322" width="613" height="1"/>
<rect x="2" y="429" width="613" height="1"/>
<rect x="2" y="321" width="613" height="1" fill="#fff"/>
<rect x="35" y="321" width="1" height="1"/>
<rect x="275" y="321" width="1" height="1"/>
<rect x="515" y="321" width="1" height="1"/>
<rect x="615" y="20" width="2" height="1"/>
<rect x="615" y="53" width="2" height="1"/>
<rect x="615" y="86" width="2" height="1"/>
<rect x="615" y="119" width="2" height="1"/>
<rect x="615" y="152" width="2" height="1"/>
<rect x="615" y="185" width="2" height="1"/>
<rect x="615" y="218" width="2" height="1"/>
<rect x="615" y="251" width="2" height="1"/>
<rect x="615" y="284" width="2" height="1"/>
<rect x="615" y="317" width="2" height="1"/>
<rect x="615" y="378" width="2" height="1"/>
<rect x="615" y="428" width="2" height="1"/>
<rect x="615" y="324" width="1" height="1"/>
<rect x="3" y="430" width="1" height="3"/>
<rect x="67" y="430" width="1" height="3"/>
<rect x="131" y="430" width="1" height="3"/>
<rect x="195" y="430" width="1" height="3"/>
<rect x="259" y="430" width="1" height="3"/>
<rect x="323" y="430" width="1" height="3"/>
<rect x="387" y="430" width="1" height="3"/>
<rect x="451" y="430" width="1" height="3"/>
<rect x="515" y="430" width="1" height="3"/>
</g>
<polygon points="6,9 13,9 9.5,13" fill="#000"/>
<text transform="translate(18 14) scale(1 1)" textLength="43.3" lengthAdjust="spacingAndGlyphs">S&amp;P,fs,H4</text>
<text transform="translate(67.5 14) scale(1 1)" textLength="32.1" lengthAdjust="spacingAndGlyphs">2777.78</text>
<text transform="translate(103.1 14) scale(1 1)" textLength="32" lengthAdjust="spacingAndGlyphs">2778.03</text>
<text transform="translate(139.1 14) scale(1 1)" textLength="32.3" lengthAdjust="spacingAndGlyphs">2774.53</text>
<text transform="translate(175.5 14) scale(1 1)" textLength="32.5" lengthAdjust="spacingAndGlyphs">2775.53</text>
<text transform="translate(7.5 335) scale(1 1)" textLength="69" lengthAdjust="spacingAndGlyphs">CCI(20) 76.4208</text>
<text transform="translate(619.7 24) scale(1 1)" textLength="33.6" lengthAdjust="spacingAndGlyphs">2781.10</text>
<text transform="translate(619.7 57) scale(1 1)" textLength="33.6" lengthAdjust="spacingAndGlyphs">2769.70</text>
<text transform="translate(619.7 90) scale(1 1)" textLength="33.6" lengthAdjust="spacingAndGlyphs">2758.30</text>
<text transform="translate(619.7 123) scale(1 1)" textLength="33.6" lengthAdjust="spacingAndGlyphs">2746.90</text>
<text transform="translate(619.7 156) scale(1 1)" textLength="33.6" lengthAdjust="spacingAndGlyphs">2735.80</text>
<text transform="translate(619.7 189) scale(1 1)" textLength="33.6" lengthAdjust="spacingAndGlyphs">2724.40</text>
<text transform="translate(619.7 222) scale(1 1)" textLength="33.6" lengthAdjust="spacingAndGlyphs">2713.00</text>
<text transform="translate(619.7 255) scale(1 1)" textLength="33.6" lengthAdjust="spacingAndGlyphs">2701.60</text>
<text transform="translate(619.7 288) scale(1 1)" textLength="33.6" lengthAdjust="spacingAndGlyphs">2690.20</text>
<text transform="translate(619.7 321) scale(1 1)" textLength="33.6" lengthAdjust="spacingAndGlyphs">2678.80</text>
<rect x="616" y="31" width="41" height="11" fill="#000" shape-rendering="crispEdges"/>
<text transform="translate(619.7 40) scale(1 1)" textLength="33.6" lengthAdjust="spacingAndGlyphs" style="fill:#fff;stroke:#fff">2775.53</text>
<rect x="616" y="326" width="17" height="11" fill="#4682b4" shape-rendering="crispEdges"/>
<text transform="translate(618 335) scale(1 1)" textLength="13.5" lengthAdjust="spacingAndGlyphs" style="fill:#fff;stroke:#fff">200</text>
<rect x="616" y="349" width="17" height="11" fill="#4682b4" shape-rendering="crispEdges"/>
<text transform="translate(618 358) scale(1 1)" textLength="13.5" lengthAdjust="spacingAndGlyphs" style="fill:#fff;stroke:#fff">100</text>
<rect x="616" y="397" width="20" height="11" fill="#4682b4" shape-rendering="crispEdges"/>
<text transform="translate(618 406) scale(1 1)" textLength="16.5" lengthAdjust="spacingAndGlyphs" style="fill:#fff;stroke:#fff">-100</text>
<rect x="616" y="420" width="20" height="10" fill="#4682b4" shape-rendering="crispEdges"/>
<text transform="translate(618 429) scale(1 1)" textLength="16.5" lengthAdjust="spacingAndGlyphs" style="fill:#fff;stroke:#fff">-200</text>
<text transform="translate(618.5 381.5) scale(1 1)" textLength="17.3" lengthAdjust="spacingAndGlyphs">0.00</text>
<text transform="translate(618.3 333) scale(1 1)" textLength="37" lengthAdjust="spacingAndGlyphs">229.6057</text>
<text transform="translate(618.3 426) scale(1 1)" textLength="40" lengthAdjust="spacingAndGlyphs">-213.8827</text>
<text transform="translate(2.2 442) scale(1 1)" textLength="46.7" lengthAdjust="spacingAndGlyphs">1 Feb 2019</text>
<text transform="translate(66.2 442) scale(1 1)" textLength="50.7" lengthAdjust="spacingAndGlyphs">4 Feb 17:00</text>
<text transform="translate(130.2 442) scale(1 1)" textLength="51" lengthAdjust="spacingAndGlyphs">6 Feb 01:00</text>
<text transform="translate(194.2 442) scale(1 1)" textLength="50.6" lengthAdjust="spacingAndGlyphs">7 Feb 09:00</text>
<text transform="translate(258.2 442) scale(1 1)" textLength="51" lengthAdjust="spacingAndGlyphs">8 Feb 17:00</text>
<text transform="translate(322.2 442) scale(1 1)" textLength="55" lengthAdjust="spacingAndGlyphs">12 Feb 01:00</text>
<text transform="translate(386.2 442) scale(1 1)" textLength="55" lengthAdjust="spacingAndGlyphs">13 Feb 09:00</text>
<text transform="translate(450.2 442) scale(1 1)" textLength="55" lengthAdjust="spacingAndGlyphs">14 Feb 17:00</text>
<text transform="translate(514.2 442) scale(1 1)" textLength="55" lengthAdjust="spacingAndGlyphs">18 Feb 01:00</text>
</svg></body></html>
